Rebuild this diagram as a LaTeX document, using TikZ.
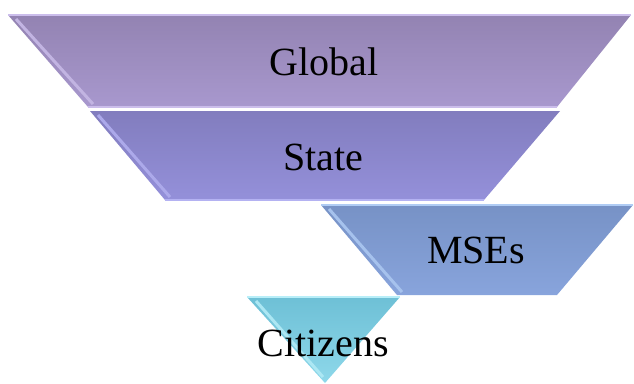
\documentclass[tikz,border=0pt]{standalone}
\usepackage{fontspec}
\setmainfont{Liberation Serif}
\usetikzlibrary{calc}
\begin{document}
\begin{tikzpicture}[x=1pt,y=-1pt,
  lbl/.style={font=\fontsize{40}{44}\selectfont, text=black, inner sep=0pt, anchor=base},
  edge/.style={line width=1.6pt, line join=miter}
]
\useasboundingbox (0,0) rectangle (634,383);
\definecolor{gA}{HTML}{9E8EC0}\definecolor{gAt}{HTML}{9383B2}\definecolor{gAb}{HTML}{A898CE}\definecolor{gAe}{HTML}{CBBDEB}
\definecolor{sA}{HTML}{8A86CC}\definecolor{sAt}{HTML}{827DBE}\definecolor{sAb}{HTML}{9490DA}\definecolor{sAe}{HTML}{B4B2F2}
\definecolor{mA}{HTML}{7F9BD2}\definecolor{mAt}{HTML}{7792C6}\definecolor{mAb}{HTML}{88A4DC}\definecolor{mAe}{HTML}{B0CCF4}
\definecolor{cA}{HTML}{7CCDE0}\definecolor{cAt}{HTML}{6EC0D6}\definecolor{cAb}{HTML}{8ED8EA}\definecolor{cAe}{HTML}{B8EEF8}
% Global
\coordinate (g1) at (8,15); \coordinate (g2) at (631,15); \coordinate (g3) at (557,107); \coordinate (g4) at (88,107);
\shade[top color=gAt, bottom color=gAb] (g1) -- (g2) -- (g3) -- (g4) -- cycle;
\draw[edge, draw=gAe] (g1) -- (g2);
\draw[edge, draw=gAe] (g4) -- (g3);
\draw[line width=3pt, draw=gAe!80!gA] ($(g1)+(8,4)$) -- ($(g4)+(5,-3)$);
\node[lbl] (global) at (324,75) {Global};
% State
\coordinate (s1) at (90,111); \coordinate (s2) at (560,111); \coordinate (s3) at (484,200); \coordinate (s4) at (165,200);
\shade[top color=sAt, bottom color=sAb] (s1) -- (s2) -- (s3) -- (s4) -- cycle;
\draw[edge, draw=sAe] (s4) -- (s3);
\draw[line width=3pt, draw=sAe!80!sA] ($(s1)+(8,4)$) -- ($(s4)+(5,-3)$);
\node[lbl] (state) at (323,170) {State};
% MSEs
\coordinate (m1) at (321,205); \coordinate (m2) at (633,205); \coordinate (m3) at (557,295); \coordinate (m4) at (397,295);
\shade[top color=mAt, bottom color=mAb] (m1) -- (m2) -- (m3) -- (m4) -- cycle;
\draw[edge, draw=mAe] (m1) -- (m2);
\draw[line width=3pt, draw=mAe!80!mA] ($(m1)+(8,4)$) -- ($(m4)+(5,-3)$);
\node[lbl] (mses) at (476,263) {MSEs};
% Citizens
\coordinate (c1) at (247,297); \coordinate (c2) at (400,297); \coordinate (c3) at (325,383);
\shade[top color=cAt, bottom color=cAb] (c1) -- (c2) -- (c3) -- cycle;
\draw[edge, draw=cAe] (c1) -- (c2);
\draw[line width=3pt, draw=cAe!80!cA] ($(c1)+(9,4)$) -- ($(c3)+(-2,-6)$);
\node[lbl] (citizens) at (323,356) {Citizens};
\end{tikzpicture}
\end{document}
